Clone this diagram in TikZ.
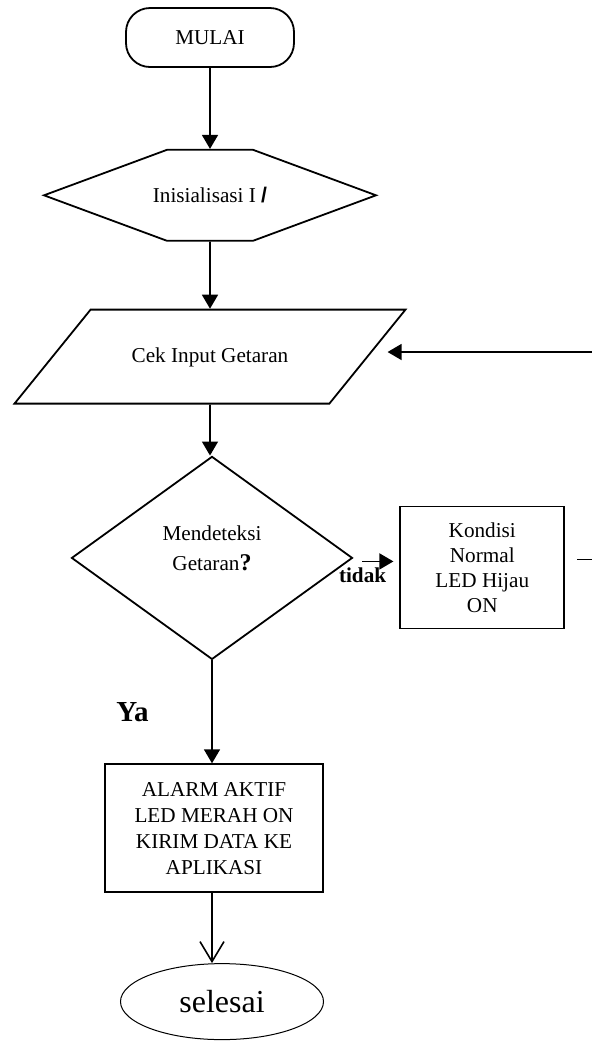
\documentclass[tikz,border=0pt]{standalone}
\usepackage{fontspec}
\setmainfont{Liberation Serif}
\setsansfont{Liberation Sans}
\usetikzlibrary{arrows.meta,positioning,shapes.geometric,shapes.symbols}

\begin{document}
\begin{tikzpicture}[
    every node/.style={font=\fontsize{10.6pt}{13pt}\selectfont},
    box/.style={draw, line width=0.9pt, align=center, inner sep=2pt},
    terminal/.style={box, rounded corners=12pt, minimum width=84pt, minimum height=29.5pt},
    prep/.style={box, signal, signal to=west and east, signal pointer angle=40.6, minimum height=45.5pt},
    io/.style={box, trapezium, trapezium left angle=51, trapezium right angle=129, trapezium stretches body=true, text height=8pt, text depth=2pt, inner ysep=18.5pt, minimum width=195.5pt},
    decision/.style={box, diamond, minimum width=140.5pt, minimum height=101.5pt, inner sep=0pt},
    process/.style={box, rectangle},
    stop/.style={draw, line width=0.5pt, ellipse, minimum width=101.5pt, minimum height=38pt, font=\fontsize{16pt}{18pt}\selectfont},
    arr/.style={-{Triangle[length=7pt,width=8pt]}, line width=0.8pt},
    openarr/.style={-{Straight Barb[length=10pt,width=12pt]}, line width=0.8pt}
  ]
    \useasboundingbox (0,0) rectangle (296pt,-520.5pt);
    \node[terminal] (mulai) at (105pt,-18.75pt) {MULAI};
    \node[prep, below=40.5pt of mulai] (init) {\makebox[39pt]{Inisialisasi I {\sffamily\bfseries /}}};
    \node[io, below=33.5pt of init] (cek) {Cek Input Getaran};
    \node[decision, below=25.5pt of cek, xshift=1pt] (deteksi) {Mendeteksi\\[2pt]Getaran{\fontsize{12pt}{13pt}\selectfont\bfseries ?}\\[-3pt]\mbox{}};
    \node[process, right=23pt of deteksi, yshift=-4.75pt, minimum width=82pt, minimum height=61pt, font=\fontsize{10.6pt}{12.5pt}\selectfont] (kondisi) {Kondisi\\Normal\\LED Hijau\\ON};
    \node[process, below=51.5pt of deteksi, xshift=1pt, minimum width=109pt, minimum height=64pt] (alarm) {ALARM AKTIF\\LED MERAH ON\\KIRIM DATA KE\\APLIKASI};
    \node[stop, below=35pt of alarm, xshift=4pt] (selesai) {selesai};
    \coordinate (back) at (302pt,-176pt);

    \draw[arr] (mulai) -- (init);
    \draw[arr] (init) -- (cek);
    \draw[arr] (cek) -- (cek |- deteksi.north);
    \draw[arr] (deteksi) -- node[left=28pt, font=\fontsize{14.5pt}{16pt}\selectfont\bfseries] {Ya} (deteksi |- alarm.north);
    \draw[openarr] (deteksi |- alarm.south) -- (deteksi |- selesai.north);
    \draw[arr, shorten <=4.5pt, shorten >=3pt] ([yshift=-1.75pt]deteksi.east) -- node[pos=.2, below=2pt, inner sep=1pt, font=\fontsize{10.6pt}{12pt}\selectfont\bfseries] {tidak} ([yshift=-1.75pt]deteksi.east -| kondisi.west);
    \draw[arr, shorten <=6pt, shorten >=9.5pt] ([yshift=4pt]kondisi.east) -| (back) -- (back -| cek.east);
  \end{tikzpicture}
\end{document}
